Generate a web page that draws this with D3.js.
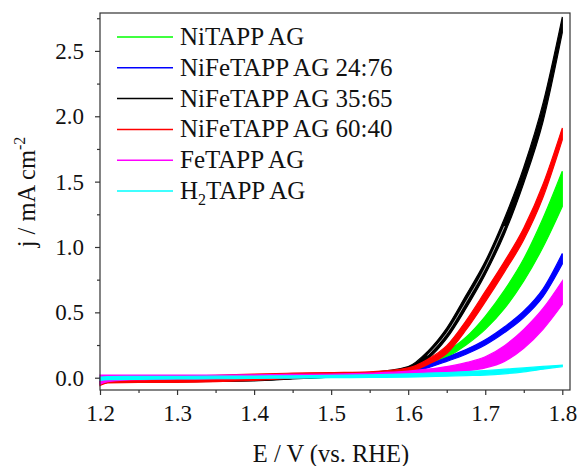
<!DOCTYPE html>
<html>
<head>
<meta charset="utf-8">
<script src="https://cdn.jsdelivr.net/npm/d3@7"></script>
<style>
  body { margin: 0; background: #fff; }
  svg text { font-family: "Liberation Serif", "Times New Roman", serif; fill: #111; }
</style>
</head>
<body>
<div id="chart"></div>
<script>
// potential grid (V vs RHE), shared by all series
const E = [1.2, 1.21, 1.25, 1.3, 1.35, 1.4, 1.45, 1.5, 1.55, 1.6, 1.625, 1.65, 1.675, 1.7, 1.725, 1.75, 1.775, 1.8];

// upper / lower envelope of the repeated cycles, mA cm-2
const niHi    = [0.0, 0.005, 0.008, 0.01, 0.012, 0.015, 0.02, 0.025, 0.035, 0.065, 0.12, 0.20, 0.31, 0.47, 0.67, 0.91, 1.22, 1.58];
const niLo    = [-0.03, -0.025, -0.02, -0.02, -0.018, -0.012, -0.005, 0.005, 0.02, 0.045, 0.085, 0.155, 0.25, 0.37, 0.53, 0.74, 1.0, 1.31];
const n2476Hi = [0.0, 0.005, 0.008, 0.01, 0.012, 0.015, 0.02, 0.025, 0.035, 0.06, 0.10, 0.155, 0.215, 0.29, 0.39, 0.51, 0.68, 0.95];
const n2476Lo = [-0.03, -0.025, -0.02, -0.02, -0.018, -0.012, -0.005, 0.005, 0.02, 0.04, 0.075, 0.125, 0.18, 0.25, 0.345, 0.46, 0.62, 0.87];
const n3565Hi = [0.0, 0.005, 0.01, 0.012, 0.015, 0.02, 0.025, 0.03, 0.04, 0.085, 0.20, 0.38, 0.63, 0.89, 1.22, 1.61, 2.10, 2.76];
const n3565Lo = [-0.05, -0.035, -0.03, -0.03, -0.028, -0.025, -0.01, 0.005, 0.025, 0.055, 0.14, 0.30, 0.53, 0.79, 1.10, 1.49, 1.96, 2.64];
const n6040Hi = [0.0, 0.005, 0.008, 0.012, 0.018, 0.028, 0.035, 0.04, 0.045, 0.075, 0.14, 0.245, 0.435, 0.66, 0.89, 1.145, 1.48, 1.91];
const n6040Lo = [-0.06, -0.04, -0.035, -0.035, -0.03, -0.02, -0.005, 0.01, 0.03, 0.045, 0.10, 0.185, 0.365, 0.58, 0.81, 1.055, 1.38, 1.82];
const feHi    = [0.02, 0.02, 0.02, 0.02, 0.02, 0.022, 0.025, 0.028, 0.035, 0.05, 0.065, 0.085, 0.115, 0.16, 0.245, 0.37, 0.53, 0.74];
const feLo    = [-0.05, -0.03, -0.015, -0.01, -0.008, -0.005, 0.0, 0.005, 0.01, 0.015, 0.025, 0.037, 0.052, 0.075, 0.125, 0.225, 0.37, 0.56];
const h2Hi    = [0.005, 0.008, 0.01, 0.01, 0.012, 0.013, 0.015, 0.018, 0.022, 0.03, 0.035, 0.04, 0.047, 0.055, 0.065, 0.075, 0.086, 0.097];
const h2Lo    = [-0.02, -0.015, -0.012, -0.01, -0.008, -0.005, -0.003, 0.0, 0.002, 0.005, 0.008, 0.012, 0.016, 0.02, 0.03, 0.045, 0.065, 0.085];

const names  = ["NiTAPP AG", "NiFeTAPP AG 24:76", "NiFeTAPP AG 35:65", "NiFeTAPP AG 60:40", "FeTAPP AG", "H2TAPP AG"];
const colors = ["#00ff00", "#0000ff", "#000000", "#ff0000", "#ff00ff", "#00ffff"];
const his = [niHi, n2476Hi, n3565Hi, n6040Hi, feHi, h2Hi];
const los = [niLo, n2476Lo, n3565Lo, n6040Lo, feLo, h2Lo];

const xTicks = [1.2, 1.3, 1.4, 1.5, 1.6, 1.7, 1.8];
const yTicks = [0.0, 0.5, 1.0, 1.5, 2.0, 2.5];

const width = 579, height = 466;
const m = {left: 100, right: 9, top: 13, bottom: 76};

const svg = d3.select("#chart").append("svg")
    .attr("width", width)
    .attr("height", height);

const x = d3.scaleLinear().domain([1.2, 1.81]).range([m.left, width - m.right]);
const y = d3.scaleLinear().domain([-0.094, 2.79]).range([height - m.bottom, m.top]);

const plot = svg.append("g");

names.forEach((name, k) => {
    const pts = E.map((e, i) => ({e: e, hi: his[k][i], lo: los[k][i]}));
    const area = d3.area()
        .x(d => x(d.e)).y0(d => y(d.lo)).y1(d => y(d.hi))
        .curve(d3.curveMonotoneX);
    plot.append("path")
        .attr("d", area(pts))
        .attr("fill", colors[k])
        .attr("stroke", colors[k])
        .attr("stroke-width", 1.2);

    // thin gap between the two groups of cycles in the 35:65 band
    if (k === 2) {
        const mid = pts.filter(d => d.e >= 1.62 && d.e <= 1.73);
        plot.append("path")
            .attr("d", d3.line().x(d => x(d.e)).y(d => y((d.hi + d.lo) / 2)).curve(d3.curveMonotoneX)(mid))
            .attr("fill", "none")
            .attr("stroke", "#fff")
            .attr("stroke-width", 0.7);
    }
});

// axes
const xAxis = d3.axisBottom(x).tickValues(xTicks).tickFormat(d3.format(".1f")).tickSize(5).tickPadding(10);
const yAxis = d3.axisLeft(y).tickValues(yTicks).tickFormat(d3.format(".1f")).tickSize(5).tickPadding(11);

svg.append("g").attr("transform", `translate(0,${height - m.bottom})`).call(xAxis);
svg.append("g").attr("transform", `translate(${m.left},0)`).call(yAxis);

svg.append("g").attr("transform", `translate(0,${height - m.bottom})`)
    .call(d3.axisBottom(x).tickValues(d3.range(1.25, 1.8, 0.1)).tickSize(3).tickFormat(""));
svg.append("g").attr("transform", `translate(${m.left},0)`)
    .call(d3.axisLeft(y).tickValues(d3.range(0.25, 2.79, 0.5)).tickSize(3).tickFormat(""));

svg.selectAll(".domain").remove();
svg.selectAll(".tick line").attr("stroke", "#333").attr("stroke-width", 1.2);
svg.selectAll(".tick text").attr("font-size", 23).attr("fill", "#111");

svg.append("rect")
    .attr("x", m.left).attr("y", m.top)
    .attr("width", width - m.left - m.right)
    .attr("height", height - m.top - m.bottom)
    .attr("fill", "none").attr("stroke", "#333").attr("stroke-width", 1.2);

// legend
const leg = svg.append("g").attr("transform", "translate(117,37)");
names.forEach((name, k) => {
    const row = leg.append("g").attr("transform", `translate(0,${k * 30.8})`);
    row.append("line").attr("x1", 0).attr("x2", 56)
        .attr("stroke", colors[k]).attr("stroke-width", 1.5);
    const t = row.append("text").attr("x", 63).attr("y", 8).attr("font-size", 25);
    if (name.startsWith("H2")) {
        t.append("tspan").text("H");
        t.append("tspan").text("2").attr("font-size", 16).attr("dy", 6);
        t.append("tspan").text("TAPP AG").attr("dy", -6);
    } else {
        t.text(name);
    }
});

// axis titles
svg.append("text")
    .attr("x", 331).attr("y", 462)
    .attr("text-anchor", "middle").attr("font-size", 24.5)
    .text("E / V (vs. RHE)");

const yt = svg.append("text")
    .attr("transform", "translate(35,192) rotate(-90)")
    .attr("text-anchor", "middle").attr("font-size", 24.5);
yt.append("tspan").text("j / mA cm");
yt.append("tspan").text("-2").attr("font-size", 16).attr("dy", -10);
</script>
</body>
</html>
